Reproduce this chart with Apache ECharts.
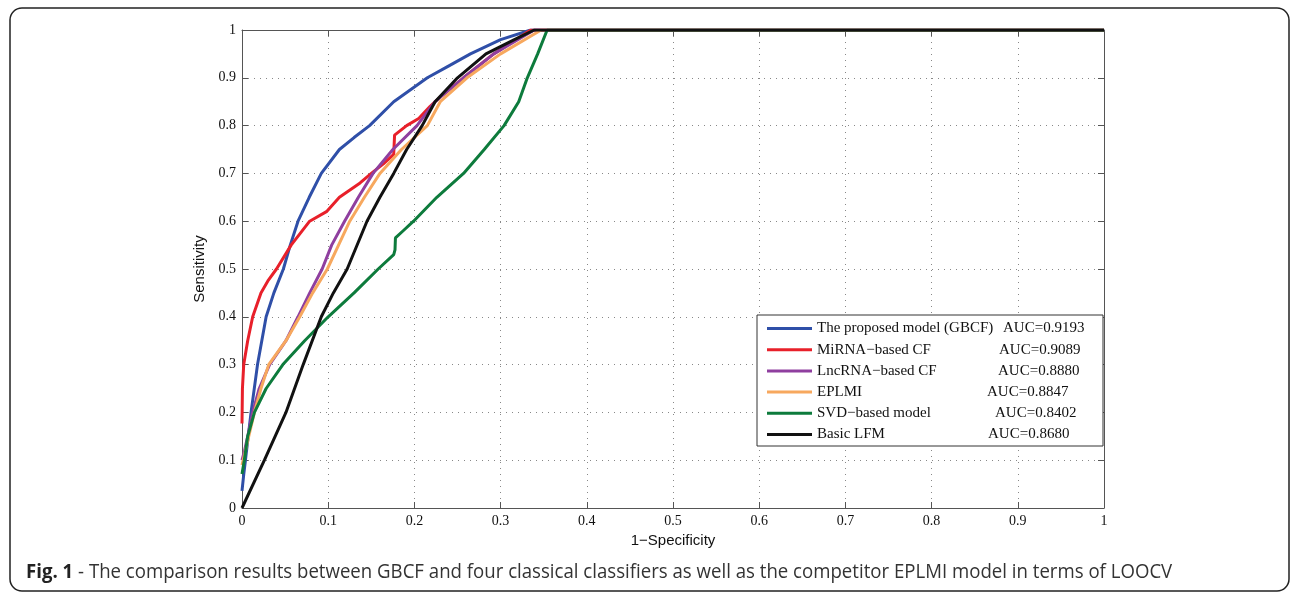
<!DOCTYPE html>
<html><head><meta charset="utf-8">
<script src="https://cdn.jsdelivr.net/npm/echarts@6/dist/echarts.min.js"></script>
<style>html,body{margin:0;padding:0;background:#fff}#c{width:1292px;height:595px}</style>
</head><body><div id="c"></div>
<script>
const seriesNames = ['The proposed model (GBCF)','MiRNA\u2212based CF','LncRNA\u2212based CF','EPLMI','SVD\u2212based model','Basic LFM'];
const aucLabels = ['AUC=0.9193','AUC=0.9089','AUC=0.8880','AUC=0.8847','AUC=0.8402','AUC=0.8680'];
const colors = ['#2f4fa8','#e8202a','#8f3f9f','#f7a85e','#0d7b3c','#111111'];
const tickLabels = ['0','0.1','0.2','0.3','0.4','0.5','0.6','0.7','0.8','0.9','1'];

const gbcf = [[0,0.036],[0.002,0.07],[0.004,0.1],[0.0105,0.2],[0.018,0.3],[0.028,0.4],[0.037,0.45],[0.048,0.5],[0.056,0.55],[0.065,0.6],[0.078,0.65],[0.092,0.7],[0.113,0.75],[0.13,0.775],[0.148,0.8],[0.176,0.85],[0.215,0.9],[0.24,0.925],[0.265,0.95],[0.3,0.98],[0.335,1],[1,1]];
const mirna = [[0,0.177],[0.0005,0.25],[0.002,0.3],[0.0066,0.35],[0.0124,0.4],[0.022,0.45],[0.03,0.475],[0.04,0.5],[0.057,0.55],[0.0785,0.6],[0.098,0.62],[0.113,0.65],[0.137,0.68],[0.15,0.7],[0.164,0.72],[0.176,0.74],[0.177,0.78],[0.191,0.8],[0.205,0.815],[0.218,0.84],[0.23,0.86],[0.257,0.9],[0.292,0.95],[0.335,1],[1,1]];
const lncrna = [[0,0.1],[0.003,0.12],[0.0066,0.15],[0.0124,0.2],[0.02,0.25],[0.032,0.3],[0.051,0.35],[0.065,0.4],[0.0786,0.45],[0.093,0.5],[0.104,0.55],[0.119,0.6],[0.135,0.65],[0.152,0.7],[0.175,0.75],[0.203,0.8],[0.224,0.85],[0.257,0.9],[0.292,0.95],[0.339,1],[1,1]];
const eplmi = [[0,0.09],[0.004,0.12],[0.0078,0.15],[0.0144,0.2],[0.022,0.25],[0.031,0.3],[0.051,0.35],[0.067,0.4],[0.082,0.45],[0.099,0.5],[0.112,0.55],[0.125,0.6],[0.142,0.65],[0.16,0.7],[0.185,0.75],[0.215,0.8],[0.23,0.85],[0.261,0.9],[0.3,0.95],[0.347,1],[1,1]];
const svd = [[0,0.071],[0.0027,0.1],[0.0066,0.15],[0.0144,0.2],[0.028,0.25],[0.0474,0.3],[0.0727,0.35],[0.1,0.4],[0.13,0.45],[0.158,0.5],[0.176,0.53],[0.1775,0.54],[0.178,0.565],[0.187,0.58],[0.199,0.6],[0.226,0.65],[0.257,0.7],[0.281,0.75],[0.304,0.8],[0.321,0.85],[0.331,0.9],[0.343,0.95],[0.354,1],[1,1]];
const lfm = [[0,0],[0.026,0.1],[0.051,0.2],[0.071,0.3],[0.092,0.4],[0.106,0.45],[0.122,0.5],[0.145,0.6],[0.16,0.65],[0.176,0.7],[0.191,0.75],[0.209,0.8],[0.224,0.85],[0.25,0.9],[0.283,0.95],[0.316,0.98],[0.339,1],[1,1]];
const allData = [gbcf, mirna, lncrna, eplmi, svd, lfm];

const captionBold = 'Fig. 1';
const captionText = ' - The comparison results between GBCF and four classical classifiers as well as the competitor EPLMI model in terms of LOOCV';

const nameWidths = [186,182,181,170,178,171];
const rich = {};
nameWidths.forEach((w,i)=>{ rich['n'+i] = {width:w, fontFamily:'Liberation Serif', fontSize:15, color:'#111', lineHeight:16};
  rich['a'+i] = {width:285-w, fontFamily:'Liberation Serif', fontSize:15, color:'#111', lineHeight:16}; });

const chart = echarts.init(document.getElementById('c'));
const serifLabel = {fontFamily:'Liberation Serif', fontSize:14, color:'#111', formatter:(v)=>tickLabels[Math.round(v*10)]};
const axisLineStyle = {onZero:false, lineStyle:{color:'#555', width:1}};
const tickStyle = {inside:true, length:6, lineStyle:{color:'#555'}};
chart.setOption({
  animation:false,
  backgroundColor:'#fff',
  grid:{left:242, top:30, width:862, height:478, containLabel:false},
  legend:{
    orient:'vertical', left:757, top:315, itemWidth:45, itemHeight:3, itemGap:6.2, icon:'rect',
    backgroundColor:'#fff', borderColor:'#333', borderWidth:1, borderRadius:0, padding:[6,1,4,10],
    data:seriesNames,
    formatter:(name)=>{const i=seriesNames.indexOf(name); return '{n'+i+'|'+name+'}{a'+i+'|'+aucLabels[i]+'}';},
    textStyle:{rich:rich, fontFamily:'Liberation Serif', fontSize:15}
  },
  xAxis:[
    {type:'value', min:0, max:1, interval:0.1, position:'bottom',
     name:'1\u2212Specificity', nameLocation:'middle', nameGap:24,
     nameTextStyle:{fontFamily:'Liberation Sans', fontSize:15, color:'#111'},
     axisLine:axisLineStyle, axisTick:tickStyle,
     axisLabel:Object.assign({margin:6}, serifLabel),
     splitLine:{show:true, lineStyle:{type:[1,5], color:'#888', width:1}}},
    {type:'value', min:0, max:1, interval:0.1, position:'top',
     axisLine:axisLineStyle, axisTick:tickStyle,
     axisLabel:{show:false}, splitLine:{show:false}}
  ],
  yAxis:[
    {type:'value', min:0, max:1, interval:0.1, position:'left',
     name:'Sensitivity', nameLocation:'middle', nameGap:28, nameRotate:90,
     nameTextStyle:{fontFamily:'Liberation Sans', fontSize:15, color:'#111'},
     axisLine:axisLineStyle, axisTick:tickStyle,
     axisLabel:Object.assign({margin:6}, serifLabel),
     splitLine:{show:true, lineStyle:{type:[1,5], color:'#888', width:1}}},
    {type:'value', min:0, max:1, interval:0.1, position:'right',
     axisLine:axisLineStyle, axisTick:tickStyle,
     axisLabel:{show:false}, splitLine:{show:false}}
  ],
  series: allData.map((d,i)=>({
    name:seriesNames[i], type:'line', data:d, showSymbol:false, symbol:'none',
    lineStyle:{color:colors[i], width:3}, itemStyle:{color:colors[i]}, z:2+i, clip:true
  })),
  graphic:[
    {type:'rect', shape:{x:10, y:8, width:1279, height:583, r:12}, style:{fill:'none', stroke:'#222', lineWidth:1.5}, z:-1},
    {type:'text', x:26, y:562, scaleX:0.931, style:{
      text:'{b|'+captionBold+'}{r|'+captionText+'}',
      rich:{b:{fontFamily:'Open Sans', fontWeight:'bold', fontSize:20, fill:'#222'},
            r:{fontFamily:'Open Sans', fontSize:20, fill:'#333'}}
    }}
  ]
});
</script></body></html>
